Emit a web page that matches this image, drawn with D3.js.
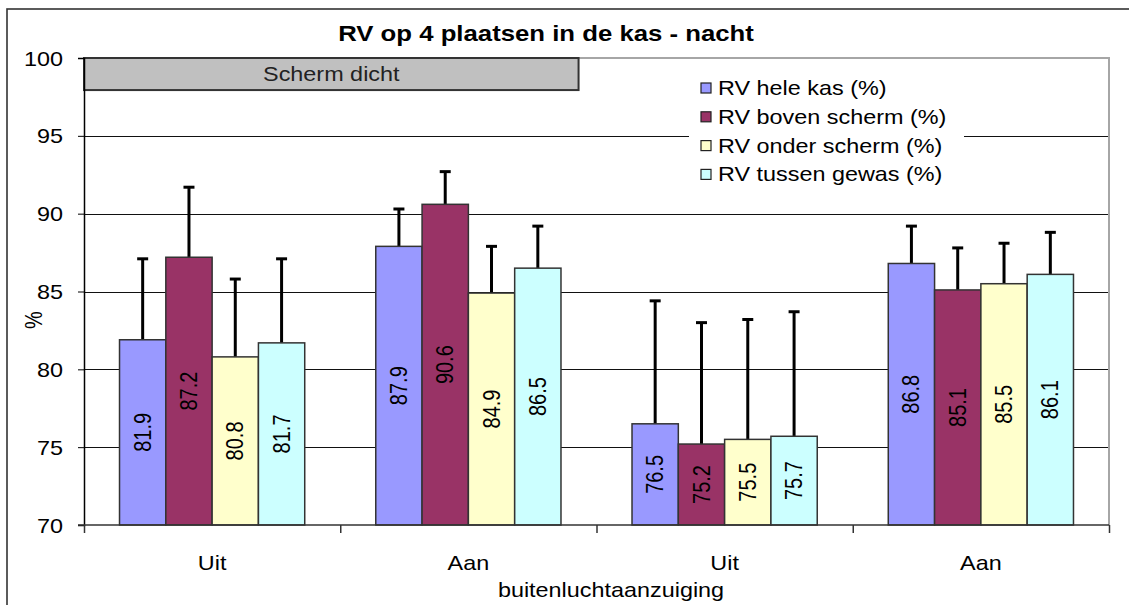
<!DOCTYPE html>
<html>
<head>
<meta charset="utf-8">
<script src="https://cdn.jsdelivr.net/npm/d3@7"></script>
<style>
  html, body { margin: 0; padding: 0; background: #fff; }
  svg { display: block; font-family: Arial, "Liberation Sans", sans-serif; }
</style>
</head>
<body>
<svg id="chart" width="1129" height="605"></svg>
<script>
// ---- data ----
const categories = ["Uit", "Aan", "Uit", "Aan"];
const seriesNames = ["RV hele kas (%)", "RV boven scherm (%)", "RV onder scherm (%)", "RV tussen gewas (%)"];
const heleKas      = [81.9, 87.9, 76.5, 86.8];
const bovenScherm  = [87.2, 90.6, 75.2, 85.1];
const onderScherm  = [80.8, 84.9, 75.5, 85.5];
const tussenGewas  = [81.7, 86.5, 75.7, 86.1];
const heleKasErr     = [5.2, 2.4, 7.9, 2.4];
const bovenSchermErr = [4.5, 2.1, 7.8, 2.7];
const onderSchermErr = [5.0, 3.0, 7.7, 2.6];
const tussenGewasErr = [5.4, 2.7, 8.0, 2.7];
const yTicks = [70, 75, 80, 85, 90, 95, 100];
const gridTicks = [75, 80, 85, 90, 95];
const yDomain = [70, 100];
const titleText = "RV op 4 plaatsen in de kas - nacht";
const xTitle = "buitenluchtaanzuiging";
const yTitle = "%";
const schermLabel = "Scherm dicht";
const schermSpanGroups = [0, 1.93];   // in category units
const schermSpanValues = [100, 97.94];

const colors = ["#9999FF", "#993366", "#FFFFCC", "#CCFFFF"];
const values = [heleKas, bovenScherm, onderScherm, tussenGewas];
const errors = [heleKasErr, bovenSchermErr, onderSchermErr, tussenGewasErr];

// ---- layout ----
const SX = 1.17; // horizontal stretch of the original rendering
const plot = { left: 84, right: 1109, top: 58, bottom: 525 };
const svg = d3.select("#chart");

const x = d3.scaleBand().domain(d3.range(categories.length)).range([plot.left, plot.right]).padding(0);
const xs = d3.scaleBand().domain(d3.range(seriesNames.length)).range([0, x.bandwidth()]).paddingInner(0).paddingOuter(0.767);
const y = d3.scaleLinear().domain(yDomain).range([plot.bottom, plot.top]);
const xLin = d3.scaleLinear().domain([0, categories.length]).range([plot.left, plot.right]);

function stretchedText(parent, tx, ty, txt, opts = {}) {
  const g = parent.append("g").attr("transform", `translate(${tx},${ty}) scale(${SX},1)` + (opts.rotate ? ` rotate(${opts.rotate})` : ""));
  const t = g.append("text")
    .attr("x", 0).attr("y", 0)
    .attr("text-anchor", opts.anchor || "middle")
    .attr("font-size", opts.size || 20)
    .attr("font-weight", opts.weight || "normal")
    .attr("fill", opts.fill || "#000")
    .text(txt);
  if (opts.baseline) t.attr("dominant-baseline", opts.baseline);
  return g;
}

// chart outer border
svg.append("rect").attr("x", 7).attr("y", 9).attr("width", 1200).attr("height", 700)
  .attr("fill", "#fff").attr("stroke", "#333").attr("stroke-width", 1.6);

// gridlines
svg.append("g").selectAll("line").data(gridTicks).join("line")
  .attr("x1", plot.left).attr("x2", plot.right)
  .attr("y1", d => Math.round(y(d)) + 0.5).attr("y2", d => Math.round(y(d)) + 0.5)
  .attr("stroke", "#111").attr("stroke-width", 1);

// plot area top/right border
svg.append("path")
  .attr("d", `M${plot.left},${plot.top}H${plot.right}V${plot.bottom}`)
  .attr("fill", "none").attr("stroke", "#a6a6a6").attr("stroke-width", 2);

// legend background (hides gridline)
const legend = svg.append("g");
legend.append("rect").attr("x", 689).attr("y", 70).attr("width", 275).attr("height", 118).attr("fill", "#fff");
seriesNames.forEach((name, i) => {
  const by = 88 + i * 28.8;
  legend.append("rect").attr("x", 701).attr("y", by - 5).attr("width", 10).attr("height", 10)
    .attr("fill", colors[i]).attr("stroke", "#222").attr("stroke-width", 1.2);
  stretchedText(legend, 718, by + 7, name, { anchor: "start", size: 20 });
});

// Scherm dicht box
svg.append("rect")
  .attr("x", xLin(schermSpanGroups[0])).attr("y", y(schermSpanValues[0]))
  .attr("width", xLin(schermSpanGroups[1]) - xLin(schermSpanGroups[0]))
  .attr("height", y(schermSpanValues[1]) - y(schermSpanValues[0]))
  .attr("fill", "#c0c0c0").attr("stroke", "#333").attr("stroke-width", 2);
stretchedText(svg, (xLin(schermSpanGroups[0]) + xLin(schermSpanGroups[1])) / 2, 81, schermLabel, { size: 20, fill: "#222" });

// bars
const groups = svg.append("g").selectAll("g").data(categories).join("g")
  .attr("transform", (d, i) => `translate(${x(i)},0)`);

groups.each(function (cat, ci) {
  const g = d3.select(this);
  seriesNames.forEach((s, si) => {
    const v = values[si][ci];
    const e = errors[si][ci];
    const bx = xs(si), bw = xs.bandwidth();
    const cx = bx + bw / 2;
    // error bar
    g.append("line").attr("x1", cx).attr("x2", cx).attr("y1", y(v)).attr("y2", y(v + e))
      .attr("stroke", "#000").attr("stroke-width", 3);
    g.append("line").attr("x1", cx - 5.5).attr("x2", cx + 5.5).attr("y1", y(v + e)).attr("y2", y(v + e))
      .attr("stroke", "#000").attr("stroke-width", 3);
    g.append("rect").attr("x", bx).attr("y", y(v)).attr("width", bw).attr("height", y(yDomain[0]) - y(v))
      .attr("fill", colors[si]).attr("stroke", "#333").attr("stroke-width", 1.5);
    stretchedText(g, cx, (y(v) + y(yDomain[0])) / 2, d3.format(".1f")(v),
      { size: 20, rotate: -90, baseline: "central" });
  });
});

// y axis
const yAxis = svg.append("g").attr("transform", `translate(${plot.left},0)`)
  .call(d3.axisLeft(y).tickValues(yTicks).tickSize(6).tickFormat(""));
yAxis.select(".domain").attr("stroke", "#000").attr("stroke-width", 1.5);
yAxis.selectAll(".tick line").attr("stroke", "#000").attr("stroke-width", 1);
yTicks.forEach(t => stretchedText(svg, 63, y(t) + 7.5, String(t), { anchor: "end", size: 20 }));

// x axis
const xAxis = svg.append("g").attr("transform", `translate(0,${plot.bottom})`)
  .call(d3.axisBottom(xLin).tickValues(d3.range(categories.length + 1)).tickSize(8).tickFormat(""));
xAxis.select(".domain").attr("stroke", "#333").attr("stroke-width", 1.5).attr("d", `M${plot.left - 6},0H${plot.right}`);
xAxis.selectAll(".tick line").attr("stroke", "#333").attr("stroke-width", 1.5);
categories.forEach((c, i) => stretchedText(svg, x(i) + x.bandwidth() / 2, 570, c, { size: 20 }));

// titles
stretchedText(svg, 546, 40.5, titleText, { size: 22, weight: "bold" });
stretchedText(svg, 611, 597, xTitle, { size: 20 });
stretchedText(svg, 34, 320, yTitle, { size: 20, rotate: -90, baseline: "central" });
</script>
</body>
</html>
